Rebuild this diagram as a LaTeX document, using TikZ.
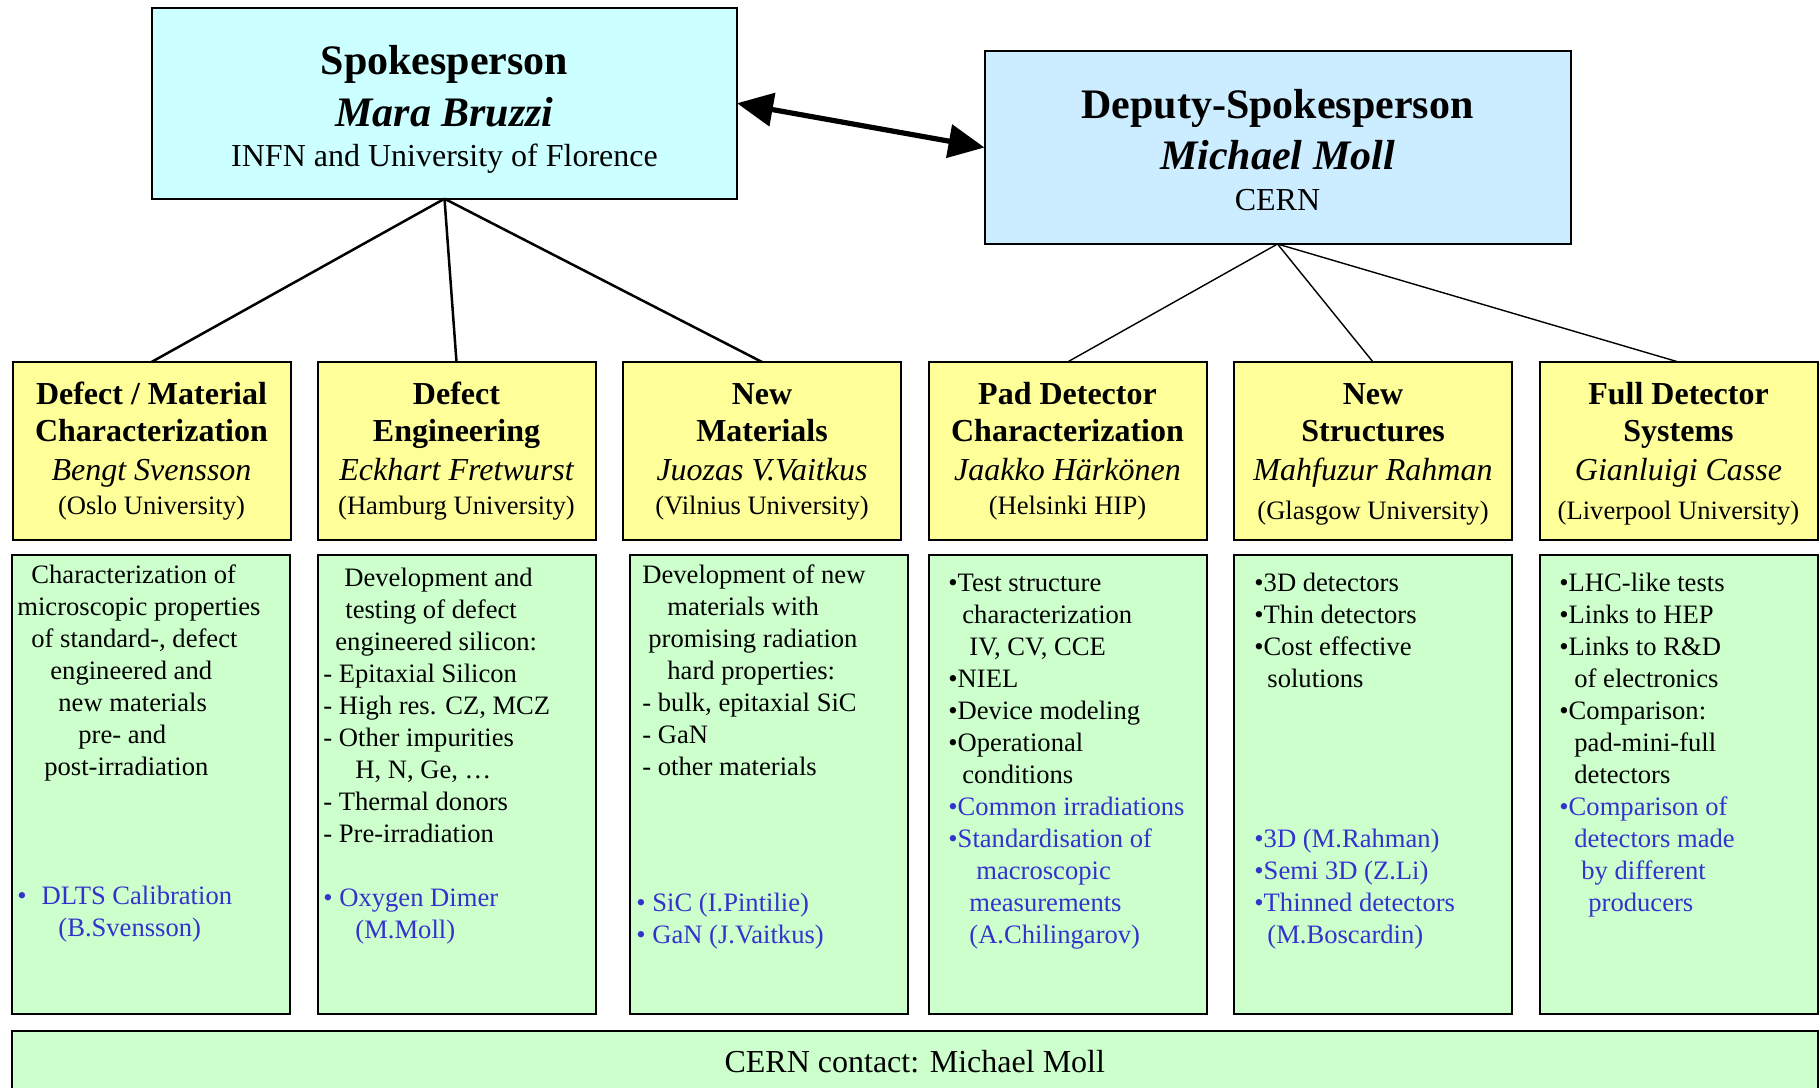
\documentclass[tikz,border=0pt]{standalone}
\usepackage{fontspec}
\setmainfont{Liberation Serif}
\usetikzlibrary{arrows.meta}

\definecolor{spokefill}{HTML}{CCFFFF}
\definecolor{deputyfill}{HTML}{CCECFF}
\definecolor{wgfill}{HTML}{FFFF99}
\definecolor{taskfill}{HTML}{CCFFCC}
\definecolor{contactblue}{HTML}{3333CC}

\tikzset{
  box/.style={draw=black, line width=1pt, inner sep=0pt, outer sep=0pt},
  headbox/.style={box, minimum width=292.5pt, minimum height=95.5pt},
  wgbox/.style={box, fill=wgfill, minimum width=139pt, minimum height=89pt},
  taskbox/.style={box, fill=taskfill, minimum width=139pt, minimum height=229.5pt},
  tline/.style={inner sep=0pt, anchor=base},
  headtitle/.style={tline, font=\fontsize{21}{25}\selectfont\bfseries},
  headname/.style={tline, font=\fontsize{21}{25}\selectfont\bfseries\itshape},
  headaff/.style={tline, font=\fontsize{16}{19}\selectfont},
  wgtitle/.style={tline, font=\fontsize{16}{19}\selectfont\bfseries},
  wgname/.style={tline, font=\fontsize{16}{19}\selectfont\itshape},
  wgaff/.style={tline, font=\fontsize{13.3}{16}\selectfont},
  item/.style={inner sep=0pt, anchor=base west, font=\fontsize{13.3}{16}\selectfont},
  bitem/.style={item, text=contactblue},
  spokelink/.style={line width=1.25pt},
  deputylink/.style={line width=0.7pt},
}

\newcommand\wglabels[7]{%
  \node[wgtitle] (#1-a) at (#2,404.5) {#3};
  \node[wgtitle] (#1-b) at (#2,441.5) {#4};
  \node[wgname]  (#1-c) at (#2,480.5) {#5};
  \node[wgaff]   (#1-d) at (#2,#7) {#6};}

\begin{document}
\begin{tikzpicture}[x=0.5pt,y=-0.5pt]
\useasboundingbox (0,0) rectangle (1820,1087);
\clip (0,0) rectangle (1820,1087);

% spokesperson and deputy
\node[headbox, fill=spokefill] (sp) at (444.5,103.25) {};
\node[headtitle] (sp-a) at (444.5,74) {Spokesperson};
\node[headname]  (sp-b) at (444.5,126) {Mara Bruzzi};
\node[headaff]   (sp-c) at (444.5,166) {INFN and University of Florence};

\node[headbox, fill=deputyfill, minimum width=293pt, minimum height=96.5pt] (dep) at (1277.5,147.5) {};
\node[headtitle] (dep-a) at (1277.5,118) {Deputy-Spokesperson};
\node[headname]  (dep-b) at (1277.5,169) {Michael Moll};
\node[headaff]   (dep-c) at (1277.5,210) {CERN};

\draw[line width=2.6pt, {Triangle[length=18pt,width=16.5pt]}-{Triangle[length=18pt,width=16.5pt]}]
  (sp.east) -- (dep.west);

% working groups
\node[wgbox] (wg1) at (151.5,451) {};
\node[wgbox] (wg2) at (456.5,451) {};
\node[wgbox] (wg3) at (762,451) {};
\node[wgbox] (wg4) at (1067.5,451) {};
\node[wgbox] (wg5) at (1373,451) {};
\node[wgbox] (wg6) at (1678.5,451) {};

\wglabels{w1}{151.5}{Defect / Material}{Characterization}{Bengt Svensson}{(Oslo University)}{514.5}
\wglabels{w2}{456.5}{Defect}{Engineering}{Eckhart Fretwurst}{(Hamburg University)}{514.5}
\wglabels{w3}{762}{New}{Materials}{Juozas V.Vaitkus}{(Vilnius University)}{514.5}
\wglabels{w4}{1067.5}{Pad Detector}{Characterization}{Jaakko Härkönen}{(Helsinki HIP)}{514.5}
\wglabels{w5}{1373}{New}{Structures}{Mahfuzur Rahman}{(Glasgow University)}{519.5}
\wglabels{w6}{1678.5}{Full Detector}{Systems}{Gianluigi Casse}{(Liverpool University)}{519.5}

\foreach \w in {wg1,wg2,wg3} \draw[spokelink] (sp.south) -- (\w.north);
\foreach \w in {wg4,wg5,wg6} \draw[deputylink] (dep.south) -- (\w.north);

% task boxes
\node[taskbox] (t1) at (151,784.5) {};
\node[taskbox] (t2) at (456.5,784.5) {};
\node[taskbox] (t3) at (768.5,784.5) {};
\node[taskbox] (t4) at (1067.5,784.5) {};
\node[taskbox] (t5) at (1373,784.5) {};
\node[taskbox] (t6) at (1678.5,784.5) {};

% task box 1
\foreach \x/\t [count=\i] in {31/{Characterization of}, 17/{microscopic properties},
    31/{of standard-, defect}, 50/{engineered and}, 58/{new materials},
    78/{pre- and}, 44/{post-irradiation}}
  \node[item] (t1-\i) at (\x,551.5+32*\i) {\t};
\node[bitem] (t1-b1) at (17,904.5) {•\hspace{7.5pt}DLTS Calibration};
\node[bitem] (t1-b2) at (58,936.5) {(B.Svensson)};

% task box 2
\foreach \x/\t [count=\i] in {344/{Development and}, 345/{testing of defect},
    335/{engineered silicon:}, 323/{- Epitaxial Silicon}, 323/{- High res. CZ, MCZ},
    323/{- Other impurities}, 355/{H, N, Ge, …}, 323/{- Thermal donors},
    323/{- Pre-irradiation}}
  \node[item] (t2-\i) at (\x,554.5+32*\i) {\t};
\node[bitem] (t2-b1) at (323,906.5) {• Oxygen Dimer};
\node[bitem] (t2-b2) at (355,938.5) {(M.Moll)};

% task box 3
\foreach \x/\t [count=\i] in {642/{Development of new}, 667/{materials with},
    648/{promising radiation}, 667/{hard properties:}, 642/{- bulk, epitaxial SiC},
    642/{- GaN}, 642/{- other materials}}
  \node[item] (t3-\i) at (\x,551.5+32*\i) {\t};
\node[bitem] (t3-b1) at (636,911.5) {• SiC (I.Pintilie)};
\node[bitem] (t3-b2) at (636,943.5) {• GaN (J.Vaitkus)};

% task box 4
\foreach \x/\t [count=\i] in {948/{•Test structure}, 962/{characterization},
    969/{IV, CV, CCE}, 948/{•NIEL}, 948/{•Device modeling}, 948/{•Operational},
    962/{conditions}}
  \node[item] (t4-\i) at (\x,559.5+32*\i) {\t};
\foreach \x/\t [count=\i] in {948/{•Common irradiations}, 948/{•Standardisation of},
    976/{macroscopic}, 969/{measurements}, 969/{(A.Chilingarov)}}
  \node[bitem] (t4-b\i) at (\x,783.5+32*\i) {\t};

% task box 5
\foreach \x/\t [count=\i] in {1254/{•3D detectors}, 1254/{•Thin detectors},
    1254/{•Cost effective}, 1267/{solutions}}
  \node[item] (t5-\i) at (\x,559.5+32*\i) {\t};
\foreach \x/\t [count=\i] in {1254/{•3D (M.Rahman)}, 1254/{•Semi 3D (Z.Li)},
    1254/{•Thinned detectors}, 1267/{(M.Boscardin)}}
  \node[bitem] (t5-b\i) at (\x,815.5+32*\i) {\t};

% task box 6
\foreach \x/\t [count=\i] in {1559/{•LHC-like tests}, 1559/{•Links to HEP},
    1559/{•Links to R\&D}, 1574/{of electronics}, 1559/{•Comparison:},
    1574/{pad-mini-full}, 1574/{detectors}}
  \node[item] (t6-\i) at (\x,559.5+32*\i) {\t};
\foreach \x/\t [count=\i] in {1559/{•Comparison of}, 1574/{detectors made},
    1581/{by different}, 1588/{producers}}
  \node[bitem] (t6-b\i) at (\x,783.5+32*\i) {\t};

% CERN contact bar
\node[box, fill=taskfill, minimum width=902.75pt, minimum height=45pt] (contact) at (914.75,1075.5) {};
\node[headaff] (contact-t) at (914.75,1072) {CERN contact: Michael Moll};
\end{tikzpicture}
\end{document}
